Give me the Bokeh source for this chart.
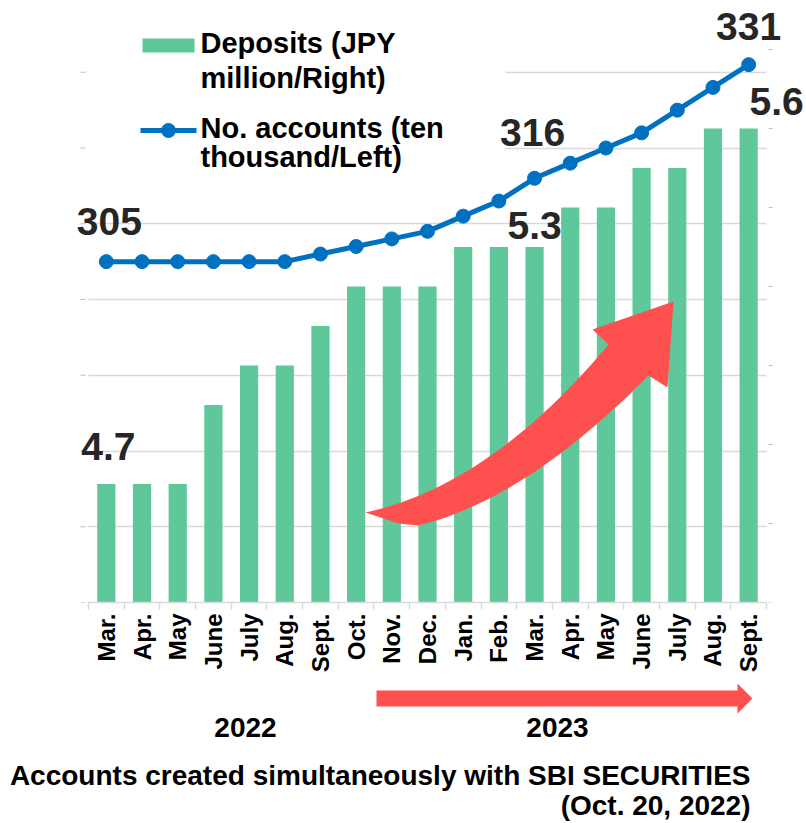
import math
import numpy as np
from bokeh.plotting import figure
from bokeh.layouts import column
from bokeh.models import (Range1d, FixedTicker, Label, BoxAnnotation, Grid)
from bokeh.embed import file_html
from bokeh.resources import INLINE

# ---------------- data ----------------
months = ["Mar.", "Apr.", "May", "June", "July", "Aug.", "Sept.", "Oct.", "Nov.", "Dec.",
          "Jan.", "Feb.", "Mar.", "Apr.", "May", "June", "July", "Aug.", "Sept."]
years = ["2022", "2023"]
deposits = [4.7, 4.7, 4.7, 4.9, 5.0, 5.0, 5.1, 5.2, 5.2, 5.2,
            5.3, 5.3, 5.3, 5.4, 5.4, 5.5, 5.5, 5.6, 5.6]
accounts = [305, 305, 305, 305, 305, 305, 306, 307, 308, 309,
            311, 313, 316, 318, 320, 322, 325, 328, 331]
left_ticks = [260, 270, 280, 290, 300, 310, 320, 330]
right_ticks = [4.4, 4.6, 4.8, 5.0, 5.2, 5.4, 5.6, 5.8]
labelled = [0, 12, 18]
legend_labels = ["Deposits (JPY\nmillion/Right)", "No. accounts (ten\nthousand/Left)"]
note_lines = ["Accounts created simultaneously with SBI SECURITIES", "(Oct. 20, 2022)"]

# ---------------- style / layout ----------------
GREEN = "#5FC89B"
BLUE = "#0070C0"
RED = "#FF5050"
GRID = "#d9d9d9"
TICK = "#bfbfbf"
FONT = "Liberation Sans"
W = 806
H_TOP, H_BOT = 680, 143
FRAME_B = 602                 # bottom of the plotting frame (px)
AREA_L, AREA_R = 88, 766      # extent of the category area (px)
UNIT = (AREA_R - AREA_L) / len(months)
L0, LPX = 260, 7.575          # left axis: value at bottom, px per unit
R0, RPX = 4.4, 395.0          # right axis: value at bottom, px per unit
LIFT = 0.37                   # baseline correction, in em


def px2x(px):
    return -0.5 + (px - AREA_L) / UNIT


def py2y(py):
    return L0 + (FRAME_B - py) / LPX


x = list(range(len(months)))
xr = Range1d(px2x(0), px2x(W))

p = figure(width=W, height=H_TOP, x_range=xr, y_range=Range1d(L0, L0 + FRAME_B / LPX),
           output_backend="svg", toolbar_location=None, y_axis_location=None,
           min_border=0, min_border_bottom=H_TOP - FRAME_B,
           outline_line_color=None, background_fill_color="white", border_fill_color="white")
p.extra_y_ranges = {"right": Range1d(R0, R0 + FRAME_B / RPX)}
for g in p.grid:
    g.visible = False

# x axis (category ticks between bars, labels at bar centres)
xa = p.xaxis[0]
xa.bounds = (-0.5, len(months) - 0.5)
xa.ticker = FixedTicker(ticks=x, minor_ticks=[i - 0.5 for i in range(len(months) + 1)])
xa.major_label_overrides = {i: m for i, m in zip(x, months)}
xa.major_label_orientation = math.pi / 2
xa.major_tick_out = 0
xa.major_tick_in = 0
xa.minor_tick_out = 7
xa.minor_tick_in = 0
xa.minor_tick_line_color = GRID
xa.minor_tick_line_width = 1.5
xa.axis_line_color = GRID
xa.axis_line_width = 1.5
xa.major_label_text_font = FONT
xa.major_label_text_font_style = "bold"
xa.major_label_text_font_size = "24px"
xa.major_label_text_color = "black"
xa.major_label_standoff = 4

# horizontal grid lines (left-axis ticks)
p.add_layout(Grid(dimension=1, ticker=FixedTicker(ticks=left_ticks),
                  grid_line_color=GRID, grid_line_width=1.5))
# white areas: outside the category area and behind the legend
x_lo, x_hi = px2x(0), px2x(W)
y_hi = L0 + FRAME_B / LPX
for l, r, b in [(x_lo, -0.5, L0), (len(months) - 0.5, x_hi, L0), (x_lo, px2x(505), py2y(185))]:
    p.add_layout(BoxAnnotation(left=l, right=r, top=y_hi, bottom=b, fill_color="white",
                               fill_alpha=1, line_alpha=0, level="underlay"))

# small outside tick marks of the (unlabelled) left and right axes
p.segment(x0=px2x(AREA_L - 8), x1=px2x(AREA_L - 3), y0=left_ticks, y1=left_ticks,
          line_color=TICK, line_width=1)
p.segment(x0=px2x(AREA_R + 2), x1=px2x(AREA_R + 6), y0=right_ticks, y1=right_ticks,
          line_color=TICK, line_width=1, y_range_name="right")

# bars and line
p.vbar(x=x, top=deposits, bottom=R0, width=0.51, y_range_name="right",
       fill_color=GREEN, line_color=None)
p.line(x, accounts, line_width=5, line_color=BLUE)
p.scatter(x, accounts, size=14, fill_color=BLUE, line_color=BLUE)


# curved decorative arrow (page px -> data)
def qbez(p0, c, p2, n=30):
    t = np.linspace(0, 1, n)
    bx = (1 - t) ** 2 * p0[0] + 2 * (1 - t) * t * c[0] + t ** 2 * p2[0]
    by_ = (1 - t) ** 2 * p0[1] + 2 * (1 - t) * t * c[1] + t ** 2 * p2[1]
    return list(bx), list(by_)


ux, uy = qbez((365, 512), (490, 485), (608, 344))
lx, ly = qbez((418, 525), (527, 498), (648, 375))
ax = ux + [592, 673, 667] + lx[::-1] + [398, 380]
ay = uy + [329, 301, 387] + ly[::-1] + [523, 517]
p.patch([px2x(v) for v in ax], [py2y(v) for v in ay], fill_color=RED, line_color=None)

# legend (manual)
p.quad(left=px2x(142), right=px2x(194), top=py2y(38), bottom=py2y(52),
       fill_color=GREEN, line_color=None)
p.line([px2x(140), px2x(196)], [py2y(130), py2y(130)], line_width=5, line_color=BLUE)
p.scatter([px2x(168)], [py2y(130)], size=14, fill_color=BLUE, line_color=BLUE)
leg_base = [(53, 88), (138, 167)]
for lab, bases in zip(legend_labels, leg_base):
    for line, b in zip(lab.split("\n"), bases):
        p.add_layout(Label(x=px2x(200), y=py2y(b), y_offset=LIFT * 29, text=line,
                           text_font=FONT, text_font_style="bold", text_font_size="29px",
                           text_color="black", text_align="left", text_baseline="alphabetic"))

# data labels
acc_off = {0: (3, 26), 12: (-2, 31), 18: (0, 24)}
dep_off = {0: (2, 23), 12: (0, 7), 18: (28, 13)}
for i in labelled:
    dx, dy = acc_off[i]
    p.add_layout(Label(x=x[i], y=accounts[i], text=str(accounts[i]), x_offset=dx,
                       y_offset=dy + LIFT * 39,
                       text_font=FONT, text_font_style="bold", text_font_size="39px",
                       text_color="#262626", text_align="center", text_baseline="alphabetic"))
    dx, dy = dep_off[i]
    p.add_layout(Label(x=x[i], y=deposits[i], text=f"{deposits[i]:.1f}", x_offset=dx,
                       y_offset=dy + LIFT * 39, y_range_name="right",
                       text_font=FONT, text_font_style="bold", text_font_size="39px",
                       text_color="#262626", text_align="center", text_baseline="alphabetic"))

# ---------------- bottom strip: period arrow, years, note ----------------
q = figure(width=W, height=H_BOT, x_range=xr, y_range=Range1d(0, H_BOT),
           output_backend="svg", toolbar_location=None, x_axis_location=None,
           y_axis_location=None, min_border=0, outline_line_color=None,
           background_fill_color="white", border_fill_color="white")
for g in q.grid:
    g.visible = False


def by(py):          # page px -> bottom-strip units
    return H_TOP + H_BOT - py


sx = [376, 737, 737, 752, 737, 737, 376]
sy = [690, 690, 683, 698, 713, 706, 706]
q.patch([px2x(v) for v in sx], [by(v) for v in sy], fill_color=RED, line_color=None)

for yr, cx in zip(years, [245, 557]):
    q.add_layout(Label(x=px2x(cx), y=by(737), y_offset=LIFT * 28, text=yr, text_font=FONT,
                       text_font_style="bold", text_font_size="28px", text_color="black",
                       text_align="center", text_baseline="alphabetic"))

for line, b in zip(note_lines, [785, 815]):
    q.add_layout(Label(x=px2x(750), y=by(b), y_offset=LIFT * 28, text=line, text_font=FONT,
                       text_font_style="bold", text_font_size="28px", text_color="black",
                       text_align="right", text_baseline="alphabetic"))

layout = column(p, q, spacing=0)
open("out.html", "w").write(file_html(layout, INLINE))
